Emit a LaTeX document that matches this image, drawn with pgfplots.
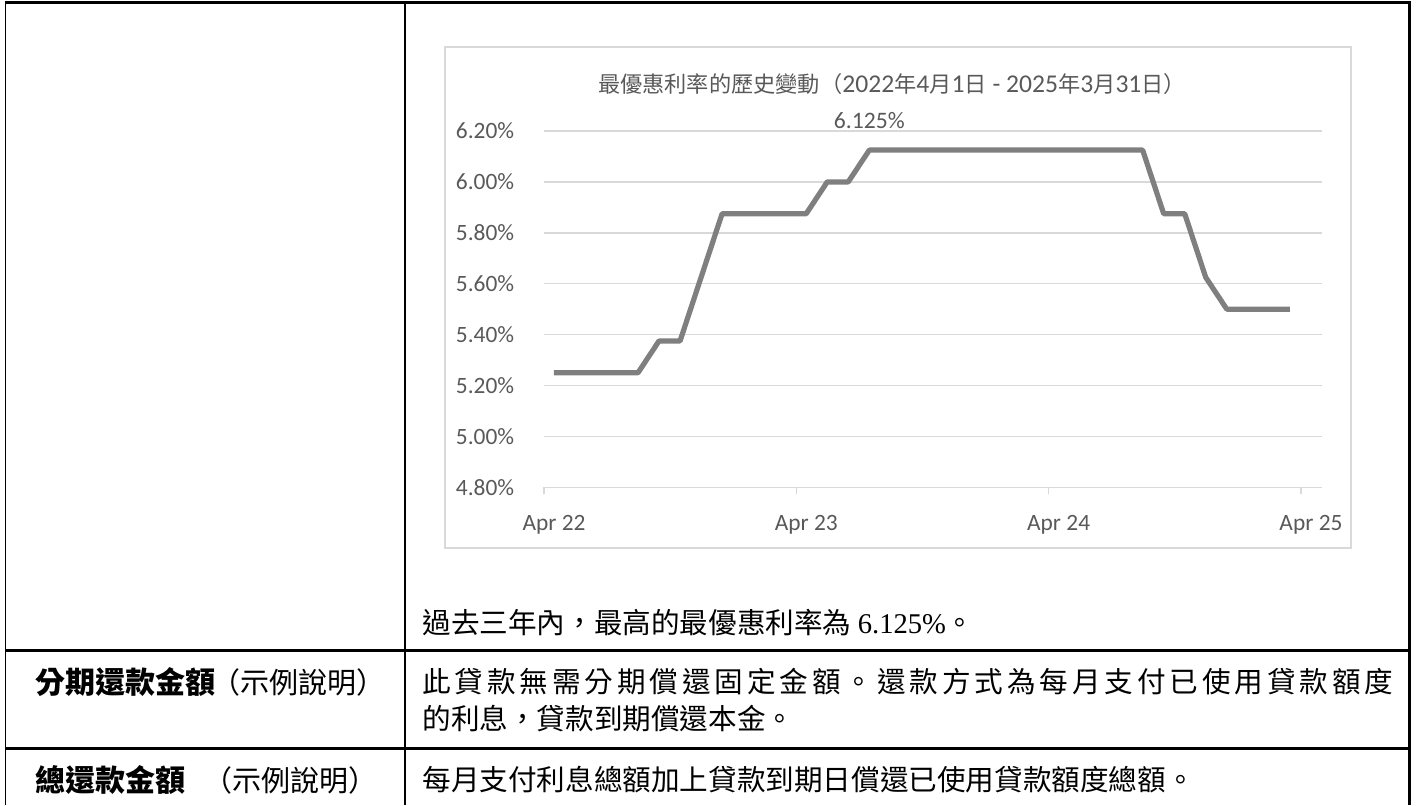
\documentclass[border=0pt]{standalone}
\usepackage{pgfplots}
\pgfplotsset{compat=1.18}
\usepackage{fontspec}
\setmainfont{Carlito}
\newfontfamily\cjk{Noto Sans CJK TC}
\newfontfamily\tnr{Liberation Serif}
\definecolor{txtgray}{HTML}{595959}
\definecolor{gridgray}{HTML}{D9D9D9}
\definecolor{linegray}{HTML}{7F7F7F}
\newcommand\g{\hspace{0pt plus 1fil}}
\newcommand\tc[1]{{\cjk\fontsize{11.1}{13}\selectfont #1}}
\pgfplotstableread{
x y
0.47 5.25
1.47 5.25
2.47 5.25
3.47 5.25
4.47 5.25
5.47 5.375
6.47 5.375
7.47 5.625
8.47 5.875
9.47 5.875
10.47 5.875
11.47 5.875
12.47 5.875
13.47 6.0
14.47 6.0
15.47 6.125
16.47 6.125
17.47 6.125
18.47 6.125
19.47 6.125
20.47 6.125
21.47 6.125
22.47 6.125
23.47 6.125
24.47 6.125
25.47 6.125
26.47 6.125
27.47 6.125
28.47 6.125
29.47 5.875
30.47 5.875
31.47 5.625
32.47 5.5
33.47 5.5
34.47 5.5
35.47 5.5
}\primedata
\begin{document}
\begin{tikzpicture}
\begin{axis}[
  at={(272pt,158.85pt)}, anchor=south west,
  width=389pt, height=178.15pt, scale only axis,
  xmin=0, xmax=37, ymin=4.8, ymax=6.2,
  xtick={0,12,24,36}, xticklabels={Apr 22,Apr 23,Apr 24,Apr 25},
  ytick={4.8,5.0,5.2,5.4,5.6,5.8,6.0,6.2},
  yticklabels={4.80\%,5.00\%,5.20\%,5.40\%,5.60\%,5.80\%,6.00\%,6.20\%},
  ymajorgrids, grid style={gridgray, line width=0.75pt},
  axis line style={draw=none},
  xtick pos=lower,
  tick align=outside, major tick length=3.5pt,
  xtick style={gridgray, line width=0.75pt},
  ytick style={draw=none},
  tick label style={font=\fontsize{11.7}{14}\selectfont, text=txtgray},
  xticklabel style={anchor=center, yshift=-15.35pt, xshift=5pt},
  yticklabel style={anchor=center, xshift=-26pt},
  clip=false,
]
\addplot[linegray, line width=2.6pt, line join=round] table[x=x,y=y] {\primedata};
\addplot[draw=none, mark=none, nodes near coords={6.125\%},
  every node near coord/.style={anchor=center, yshift=15pt, text=txtgray, font=\fontsize{11.8}{14}\selectfont}]
  coordinates {(15.47,6.125)};
\end{axis}
\begin{scope}[x=0.5pt,y=-0.5pt,shift={(0,402.5pt)}]
\draw[line width=1.5pt] (4.5,3) -- (1410,3);
\draw[line width=0.75pt] (5.5,2) -- (5.5,805);
\draw[line width=0.9pt] (405,2) -- (405,805);
\draw[line width=1.5pt] (1409,1.5) -- (1409,805);
\draw[line width=1.5pt] (5,650) -- (1410,650);
\draw[line width=1.5pt] (5,748) -- (1410,748);
\draw[gridgray, line width=0.75pt] (445,47) rectangle (1351,548);
\node[text=txtgray, font=\fontsize{12.8}{15}\selectfont, inner sep=0] at (892,84)
  {\tc{最優惠利率的歷史變動（}2022\tc{年}4\tc{月}1\tc{日} - 2025\tc{年}3\tc{月}31\tc{日）}};
\node[anchor=west, inner sep=0, font=\cjk\fontsize{14.3}{17}\selectfont] at (422,623)
  {過去三年內，最高的最優惠利率為 {\tnr 6.125\%}。};
\node[anchor=west, inner sep=0, font=\cjk\bfseries\fontsize{15}{18}\selectfont] at (35,682)
  {分期還款金額};
\node[anchor=west, inner sep=0, font=\cjk\fontsize{14.5}{17}\selectfont] at (211,682)
  {（示例說明）};
\node[anchor=west, inner sep=0, font=\cjk\fontsize{14.3}{17}\selectfont] at (422,682)
  {\makebox[485.5pt][s]{此\g{}貸\g{}款\g{}無\g{}需\g{}分\g{}期\g{}償\g{}還\g{}固\g{}定\g{}金\g{}額\g{}。\g{}還\g{}款\g{}方\g{}式\g{}為\g{}每\g{}月\g{}支\g{}付\g{}已\g{}使\g{}用\g{}貸\g{}款\g{}額\g{}度}};
\node[anchor=west, inner sep=0, font=\cjk\fontsize{14.3}{17}\selectfont] at (422,719)
  {的利息，貸款到期償還本金。};
\node[anchor=west, inner sep=0, font=\cjk\bfseries\fontsize{15}{18}\selectfont] at (35,780)
  {總還款金額};
\node[anchor=west, inner sep=0, font=\cjk\fontsize{14.5}{17}\selectfont] at (203,780)
  {（示例說明）};
\node[anchor=west, inner sep=0, font=\cjk\fontsize{14.3}{17}\selectfont] at (422,780)
  {每月支付利息總額加上貸款到期日償還已使用貸款額度總額。};
\pgfresetboundingbox
\useasboundingbox (0,0) rectangle (1416,805);
\end{scope}
\end{tikzpicture}
\end{document}
